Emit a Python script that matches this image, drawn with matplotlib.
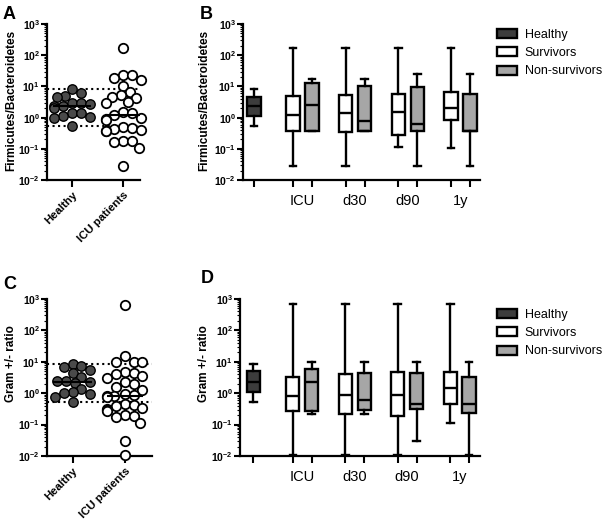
import numpy as np
import matplotlib.pyplot as plt
from matplotlib.patches import Patch
from matplotlib.ticker import LogLocator, FuncFormatter, NullFormatter, FixedLocator

plt.rcParams['font.family'] = ['Liberation Sans', 'DejaVu Sans']
plt.rcParams['mathtext.fontset'] = 'custom'
plt.rcParams['mathtext.bf'] = 'Liberation Sans:bold'
plt.rcParams['mathtext.rm'] = 'Liberation Sans'

# ---- data ----
scatter_cats = ['Healthy', 'ICU patients']
box_groups = ['ICU', 'd30', 'd90', '1y']

fb_healthy = [8.0, 6.3, 4.8, 4.5, 3.0, 2.9, 2.7, 2.4, 2.3, 2.1, 1.45, 1.4, 1.15, 1.05, 0.95, 0.54]
fb_icu = [174, 24, 23, 18, 16, 10, 6.5, 5.2, 4.5, 4.2, 3.2, 2.9, 1.5, 1.4, 1.2,
          0.95, 0.9, 0.85, 0.5, 0.45, 0.42, 0.4, 0.38, 0.36, 0.18, 0.18, 0.17, 0.11, 0.028]

gr_healthy = [8.3, 7.5, 6.6, 5.4, 4.3, 3.4, 2.5, 2.4, 2.3, 2.1, 1.35, 1.1, 1.0, 0.95, 0.76, 0.53]
gr_icu = [660, 15, 9.8, 9.8, 9.8, 4.9, 4.5, 4.0, 3.6, 3.0, 2.2, 1.9, 1.55, 1.3, 0.95, 0.85,
          0.82, 0.8, 0.78, 0.45, 0.42, 0.38, 0.35, 0.32, 0.3, 0.28, 0.2, 0.19, 0.18, 0.11, 0.029, 0.011]

# box stats, panel B (Firmicutes/Bacteroidetes)
b_healthy = dict(whislo=0.54, q1=1.1, med=2.35, q3=4.7, whishi=8.0)
b_surv_lo = [0.028, 0.028, 0.117, 0.11]
b_surv_q1 = [0.36, 0.34, 0.28, 0.84]
b_surv_med = [1.2, 1.37, 1.55, 2.1]
b_surv_q3 = [5.0, 5.2, 5.7, 6.7]
b_surv_hi = [174, 174, 174, 174]
b_ns_lo = [0.36, 0.36, 0.029, 0.029]
b_ns_q1 = [0.36, 0.36, 0.36, 0.36]
b_ns_med = [2.5, 0.78, 0.61, 0.38]
b_ns_q3 = [12.5, 10.3, 9.3, 5.7]
b_ns_hi = [17, 17, 24.5, 24.5]

# box stats, panel D (Gram +/- ratio)
d_healthy = dict(whislo=0.54, q1=1.13, med=2.35, q3=5.2, whishi=8.4)
d_surv_lo = [0.011, 0.011, 0.011, 0.115]
d_surv_q1 = [0.28, 0.21, 0.19, 0.46]
d_surv_med = [0.84, 0.88, 0.9, 1.44]
d_surv_q3 = [3.4, 4.0, 4.6, 4.7]
d_surv_hi = [690, 690, 690, 690]
d_ns_lo = [0.22, 0.22, 0.03, 0.011]
d_ns_q1 = [0.28, 0.3, 0.31, 0.24]
d_ns_med = [2.2, 0.61, 0.45, 0.45]
d_ns_q3 = [6.1, 4.4, 4.4, 3.4]
d_ns_hi = [10.2, 10.2, 10.2, 10.2]

c_healthy = '#3c3c3c'
c_surv = 'white'
c_ns = '#a6a6a6'

W, H = 605, 521
fig = plt.figure(figsize=(W / 100, H / 100), dpi=100)


def add_ax(l, r, t, b):
    return fig.add_axes([l / W, 1 - b / H, (r - l) / W, (b - t) / H])


def style_log(ax):
    ax.set_yscale('log')
    ax.set_ylim(1e-2, 1e3)
    ax.yaxis.set_major_locator(LogLocator(10, numticks=10))
    ax.yaxis.set_major_formatter(FuncFormatter(lambda v, p: r'$\mathbf{10^{%d}}$' % round(np.log10(v))))
    ax.yaxis.set_minor_locator(LogLocator(10, subs=np.arange(2, 10), numticks=10))
    ax.yaxis.set_minor_formatter(NullFormatter())
    for s in ['top', 'right']:
        ax.spines[s].set_visible(False)
    for s in ['left', 'bottom']:
        ax.spines[s].set_linewidth(1.6)
    ax.tick_params(axis='y', which='major', length=4, width=1.5, labelsize=7.5, pad=1)
    ax.tick_params(axis='y', which='minor', length=2, width=0.8)
    ax.tick_params(axis='x', which='both', width=1.5)


def swarm(vals, center, px_unit, px_dec, diam=8.8):
    ys = np.log10(vals) * px_dec
    placed = []
    xs = []
    cands = np.arange(-8, 9) * diam / 4
    cands = cands[np.argsort(np.abs(cands) + 1e-3 * (cands < 0))]
    for yi in ys:
        for xo in cands:
            if all((xo - px) ** 2 + (yi - py) ** 2 >= diam ** 2 for px, py in placed):
                break
        placed.append((xo, yi))
        xs.append(center + xo / px_unit)
    return np.array(xs)


def scatter_panel(ax, healthy, icu, ylabel, px_unit, px_dec, xlim, label_x, label_y):
    style_log(ax)
    ax.set_xlim(*xlim)
    ax.axhline(max(healthy), color='k', ls=':', lw=1.5)
    ax.axhline(min(healthy), color='k', ls=':', lw=1.5)
    xh = swarm(healthy, 1, px_unit, px_dec)
    xi = swarm(icu, 2, px_unit, px_dec)
    ax.scatter(xh, healthy, s=46, facecolor='#4a4a4a', edgecolor='k', linewidth=1.0, zorder=3, clip_on=False)
    ax.scatter(xi, icu, s=46, facecolor='white', edgecolor='k', linewidth=1.3, zorder=3, clip_on=False)
    ax.hlines(np.median(healthy), 1 - 0.38, 1 + 0.38, color='k', lw=1.5, zorder=4)
    ax.hlines(np.median(icu), 2 - 0.35, 2 + 0.35, color='k', lw=1.5, zorder=4)
    ax.set_xticks([1, 2])
    ax.set_xticklabels(scatter_cats, rotation=45, ha='right', rotation_mode='anchor',
                       fontsize=8.2, fontweight='bold')
    ax.tick_params(axis='x', length=5, pad=2)
    ax.set_ylabel(ylabel, fontsize=8.5, fontweight='bold')
    ax.yaxis.set_label_coords(label_x, label_y)


def box_panel(ax, healthy, s_lo, s_q1, s_med, s_q3, s_hi, n_lo, n_q1, n_med, n_q3, n_hi,
              ylabel, xlim, hpos, label_x, label_y):
    style_log(ax)
    stats = [dict(healthy, fliers=[])]
    pos = [hpos]
    cols = [c_healthy]
    for i in range(len(box_groups)):
        stats.append(dict(whislo=s_lo[i], q1=s_q1[i], med=s_med[i], q3=s_q3[i], whishi=s_hi[i], fliers=[]))
        stats.append(dict(whislo=n_lo[i], q1=n_q1[i], med=n_med[i], q3=n_q3[i], whishi=n_hi[i], fliers=[]))
        pos += [i + 1 - 0.18, i + 1 + 0.18]
        cols += [c_surv, c_ns]
    lp = dict(color='k', linewidth=1.7)
    bp = ax.bxp(stats, positions=pos, widths=0.25, capwidths=0.13, patch_artist=True,
                showfliers=False, boxprops=dict(edgecolor='k', linewidth=1.7),
                medianprops=lp, whiskerprops=lp, capprops=lp)
    for patch, c in zip(bp['boxes'], cols):
        patch.set_facecolor(c)
    ax.set_xlim(*xlim)
    ax.xaxis.set_major_locator(FixedLocator([1, 2, 3, 4]))
    ax.set_xticklabels(box_groups, fontsize=10.5)
    ax.tick_params(axis='x', which='major', length=0, pad=10)
    ax.xaxis.set_minor_locator(FixedLocator(pos))
    ax.tick_params(axis='x', which='minor', length=5, width=1.5)
    ax.set_ylabel(ylabel, fontsize=8.5, fontweight='bold')
    ax.yaxis.set_label_coords(label_x, label_y)


axA = add_ax(47, 140, 24, 180)
axB = add_ax(243, 480, 24, 180)
axC = add_ax(47, 152, 299, 456)
axD = add_ax(240, 480, 299, 456)

scatter_panel(axA, fb_healthy, fb_icu, 'Firmicutes/Bacteroidetes', 51, 31.2, (0.51, 2.33), -0.32, 0.513)
scatter_panel(axC, gr_healthy, gr_icu, 'Gram +/- ratio', 52.3, 31.4, (0.51, 2.52), -0.286, 0.586)
box_panel(axB, b_healthy, b_surv_lo, b_surv_q1, b_surv_med, b_surv_q3, b_surv_hi,
          b_ns_lo, b_ns_q1, b_ns_med, b_ns_q3, b_ns_hi,
          'Firmicutes/Bacteroidetes', (-0.13, 4.37), 0.08, -0.139, 0.513)
box_panel(axD, d_healthy, d_surv_lo, d_surv_q1, d_surv_med, d_surv_q3, d_surv_hi,
          d_ns_lo, d_ns_q1, d_ns_med, d_ns_q3, d_ns_hi,
          'Gram +/- ratio', (-0.19, 4.39), 0.06, -0.125, 0.586)

handles = [Patch(facecolor=c_healthy, edgecolor='k', linewidth=1.7, label='Healthy'),
           Patch(facecolor=c_surv, edgecolor='k', linewidth=1.7, label='Survivors'),
           Patch(facecolor=c_ns, edgecolor='k', linewidth=1.7, label='Non-survivors')]
for top in [29, 309]:
    fig.legend(handles=handles, loc='upper left', bbox_to_anchor=(497 / W, 1 - top / H),
               frameon=False, fontsize=9, handlelength=1.6, handleheight=0.75,
               handletextpad=0.6, labelspacing=0.5, borderaxespad=0, borderpad=0)

for letter, x, y in [('A', 3, 6), ('B', 200, 6), ('C', 3, 276), ('D', 201, 270)]:
    fig.text(x / W, 1 - y / H, letter, fontsize=13, fontweight='bold', va='top', ha='left')

fig.savefig('out.png', dpi=100)
